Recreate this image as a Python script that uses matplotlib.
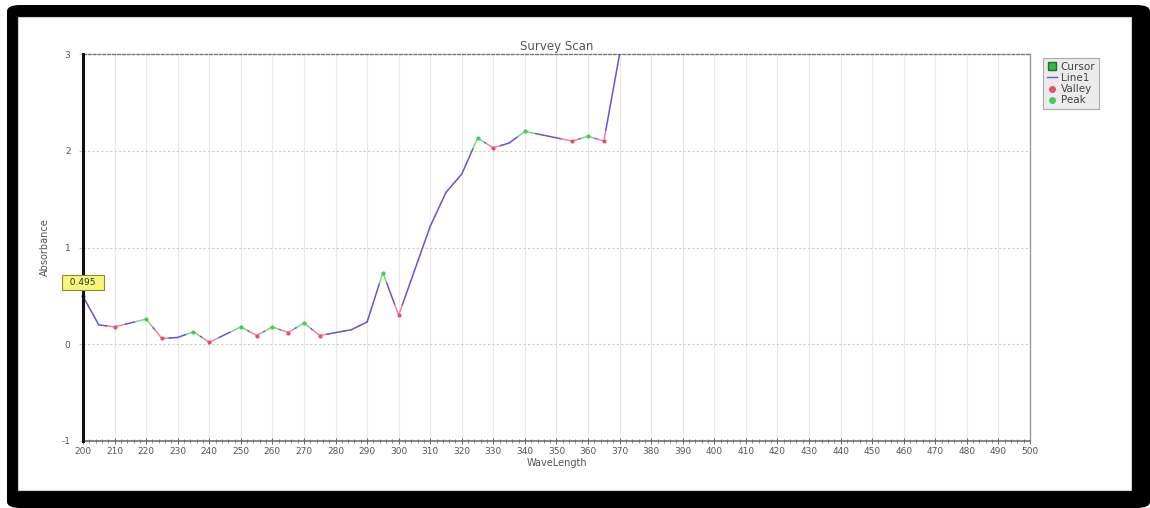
import matplotlib
matplotlib.use("Agg")
import matplotlib.pyplot as plt
from matplotlib.patches import FancyBboxPatch, Rectangle
from matplotlib.collections import LineCollection
from matplotlib.lines import Line2D
import numpy as np

# ---- data ----
wavelength = [200, 205, 210, 220, 225, 230, 235, 240, 250, 255, 260, 265, 270, 275,
              280, 285, 290, 295, 300, 305, 310, 315, 320, 325, 330, 335, 340, 355,
              360, 365, 370]
absorbance = [0.495, 0.20, 0.18, 0.26, 0.06, 0.07, 0.13, 0.02, 0.18, 0.09, 0.18, 0.12,
              0.22, 0.09, 0.12, 0.15, 0.23, 0.74, 0.30, 0.76, 1.22, 1.57, 1.76, 2.13,
              2.03, 2.08, 2.20, 2.10, 2.15, 2.10, 3.00]
peak_wl = [220, 235, 250, 260, 270, 295, 325, 340, 360]
valley_wl = [210, 225, 240, 255, 265, 275, 300, 330, 355, 365]
cursor_wl = 200
cursor_label = "0.495"
x_ticks = list(range(200, 501, 10))
y_ticks = [-1, 0, 1, 2, 3]

W, H = 1150, 508
fig = plt.figure(figsize=(W / 100, H / 100), dpi=100)
fig.patch.set_facecolor("white")

def fx(px):
    return px / W

def fy(py):
    return 1 - py / H

# outer black rounded frame
outer = FancyBboxPatch((fx(7), 0), fx(1150) - fx(7), fy(5), boxstyle="round,pad=0,rounding_size=0.012",
                       transform=fig.transFigure, facecolor="black", edgecolor="none", zorder=-3)
fig.patches.append(outer)
inner = Rectangle((fx(18), fy(490)), fx(1131) - fx(18), fy(17) - fy(490),
                  transform=fig.transFigure, facecolor="white", edgecolor="#cfcfcf", lw=0.8, zorder=-2)
fig.patches.append(inner)

ax_left, ax_right, ax_top, ax_bot = 83, 1030, 54, 441
ax = fig.add_axes([fx(ax_left), fy(ax_bot), fx(ax_right) - fx(ax_left), fy(ax_top) - fy(ax_bot)])
ax.set_zorder(2)
ax.set_facecolor("white")
ax.set_xlim(200, 500)
ax.set_ylim(-1, 3)

# grid
for xv in x_ticks[1:-1]:
    ax.axvline(xv, color="#e8e8e8", lw=0.8, zorder=0)
for yv in y_ticks[1:-1]:
    ax.axhline(yv, color="#cccccc", lw=0.8, ls=(0, (2, 2)), zorder=0)

# line: base colour, tinted for a few pixels next to peak / valley markers
wl = np.array(wavelength, dtype=float)
ab = np.array(absorbance, dtype=float)
base_c = "#6157d8"
peak_c = "#7ad884"
val_c = "#ee86a0"
px_per_x = (ax_right - ax_left) / 300.0
px_per_y = (ax_bot - ax_top) / 4.0
tint_px = 11.0

def ptcol(w):
    if w in peak_wl:
        return peak_c
    if w in valley_wl:
        return val_c
    return base_c

segs, cols = [], []
for i in range(len(wl) - 1):
    x0, y0, x1, y1 = wl[i], ab[i], wl[i + 1], ab[i + 1]
    L = np.hypot((x1 - x0) * px_per_x, (y1 - y0) * px_per_y)
    f = min(0.45, tint_px / L)
    xa, ya = x0 + f * (x1 - x0), y0 + f * (y1 - y0)
    xb, yb = x1 - f * (x1 - x0), y1 - f * (y1 - y0)
    segs += [[(x0, y0), (xa, ya)], [(xa, ya), (xb, yb)], [(xb, yb), (x1, y1)]]
    cols += [ptcol(wavelength[i]), base_c, ptcol(wavelength[i + 1])]
lc = LineCollection(segs, colors=cols, linewidths=1.1, zorder=3, capstyle="round")
ax.add_collection(lc)

pk_y = [absorbance[wavelength.index(w)] for w in peak_wl]
vl_y = [absorbance[wavelength.index(w)] for w in valley_wl]
ax.scatter(peak_wl, pk_y, s=9, color="#4cc85a", zorder=4, linewidths=0)
ax.scatter(valley_wl, vl_y, s=9, color="#e4506a", zorder=4, linewidths=0)
cy = absorbance[wavelength.index(cursor_wl)]
ax.scatter([cursor_wl], [cy], s=8, color="#2b2b8c", zorder=5, linewidths=0, clip_on=False)

# cursor annotation
ax.annotate("  " + cursor_label + "  ", xy=(cursor_wl, cy), xytext=(0, 14), textcoords="offset pixels",
            ha="center", va="center", fontsize=6.5, color="#333333",
            bbox=dict(boxstyle="square,pad=0.3", facecolor="#f6f67a", edgecolor="#8a8a30", lw=0.8),
            zorder=6, annotation_clip=False)

# spines
ax.spines["left"].set_color("#111111")
ax.spines["left"].set_linewidth(2.2)
ax.spines["left"].set_zorder(5)
ax.spines["top"].set_color("#777777")
ax.spines["top"].set_linestyle((0, (2, 1.5)))
ax.spines["top"].set_linewidth(1.0)
ax.spines["right"].set_color("#999999")
ax.spines["right"].set_linewidth(1.0)
ax.spines["bottom"].set_color("#666666")
ax.spines["bottom"].set_linewidth(1.1)

ax.set_xticks(x_ticks)
ax.set_xticks(np.arange(200, 501, 2), minor=True)
ax.tick_params(axis="x", which="major", direction="inout", length=5, width=0.7, color="#666666",
               labelsize=6.5, labelcolor="#555555", pad=2)
ax.tick_params(axis="x", which="minor", direction="inout", length=3, width=0.6, color="#777777")
ax.set_yticks(y_ticks)
ax.set_yticklabels([str(v) for v in y_ticks])
ax.tick_params(axis="y", which="major", direction="out", length=3, width=0.5, color="#aaaaaa",
               labelsize=6.5, labelcolor="#555555", pad=6)

ax.set_title("Survey Scan", fontsize=8.5, color="#555555", pad=3)
ax.set_xlabel("WaveLength", fontsize=7, color="#555555", labelpad=1)
ax.set_ylabel("Absorbance", fontsize=7, color="#555555", labelpad=8)

# legend
handles = [
    Line2D([], [], ls="none", marker="s", markersize=6, markerfacecolor="#3cb44b", markeredgecolor="#1f6e2a"),
    Line2D([], [], color=base_c, lw=1),
    Line2D([], [], ls="none", marker="o", markersize=4, markerfacecolor="#e4506a", markeredgecolor="#e4506a"),
    Line2D([], [], ls="none", marker="o", markersize=4, markerfacecolor="#4cc85a", markeredgecolor="#4cc85a"),
]
leg = fig.legend(handles, ["Cursor", "Line1", "Valley", "Peak"], loc="upper left",
                 bbox_to_anchor=(fx(1043), fy(58)), bbox_transform=fig.transFigure,
                 fontsize=7.5, frameon=True, fancybox=False, handlelength=1.0, handletextpad=0.35,
                 borderpad=0.35, labelspacing=0.12, borderaxespad=0)
leg.get_frame().set_facecolor("#e6e6e6")
leg.get_frame().set_edgecolor("#999999")
leg.get_frame().set_linewidth(0.8)
for t in leg.get_texts():
    t.set_color("#444444")

fig.savefig("out.png", dpi=100)
